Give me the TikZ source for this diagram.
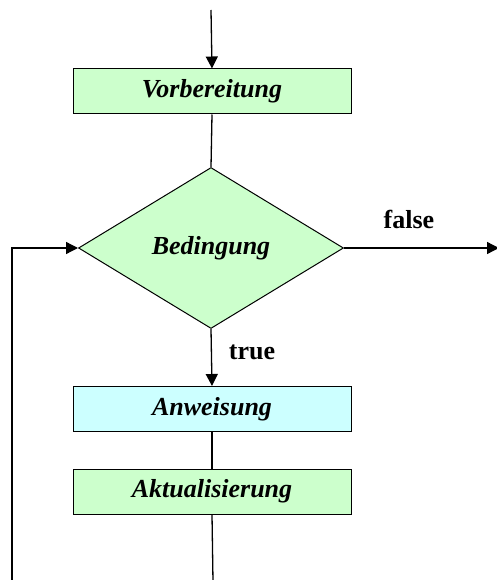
\documentclass[tikz,border=0pt]{standalone}
\usepackage{fontspec}
\setmainfont{Liberation Serif}
\usetikzlibrary{shapes.geometric,arrows.meta}
\definecolor{boxgreen}{HTML}{CCFFCC}
\definecolor{boxcyan}{HTML}{CCFFFF}
\tikzset{
  stepbox/.style={draw=black, line width=1pt, minimum width=278pt, minimum height=45pt, inner sep=0pt,
    font=\fontsize{26}{28}\selectfont\bfseries\itshape},
  decbox/.style={diamond, draw=black, line width=1pt, fill=boxgreen, minimum width=265pt, minimum height=161pt, inner sep=0pt,
    font=\fontsize{26}{28}\selectfont\bfseries\itshape},
  conn/.style={line width=1.3pt},
  arr/.style={conn, -{Triangle[length=12pt,width=12pt]}},
  lbl/.style={font=\fontsize{26}{28}\selectfont\bfseries}
}
\begin{document}
\begin{tikzpicture}[x=1pt,y=-1pt]
\useasboundingbox (0,0) rectangle (497,580);
\coordinate (start) at (211,10);
\node[stepbox, fill=boxgreen] (vor) at (212,91.5) {Vorbereitung};
\node[decbox] (cond) at (211,248) {Bedingung};
\node[stepbox, fill=boxcyan] (anw) at (212,409) {Anweisung};
\node[stepbox, fill=boxgreen] (akt) at (212,491.5) {Aktualisierung};
\coordinate (fend) at (499,248);
\coordinate (lb) at (12,582);
\coordinate (ab) at (213,582);
\node[lbl] (false) at (409,219) {false};
\node[lbl] (true) at (252,352) {true};
\draw[arr] (start) -- (vor.north);
\draw[conn] (vor.south) -- (cond.north);
\draw[arr] (cond.east) -- (fend);
\draw[arr] (cond.south) -- (anw.north);
\draw[conn] (anw.south) -- (akt.south |- akt.north);
\draw[conn] (akt.south) -- (ab);
\draw[arr] (lb) |- (cond.west);
\end{tikzpicture}
\end{document}
